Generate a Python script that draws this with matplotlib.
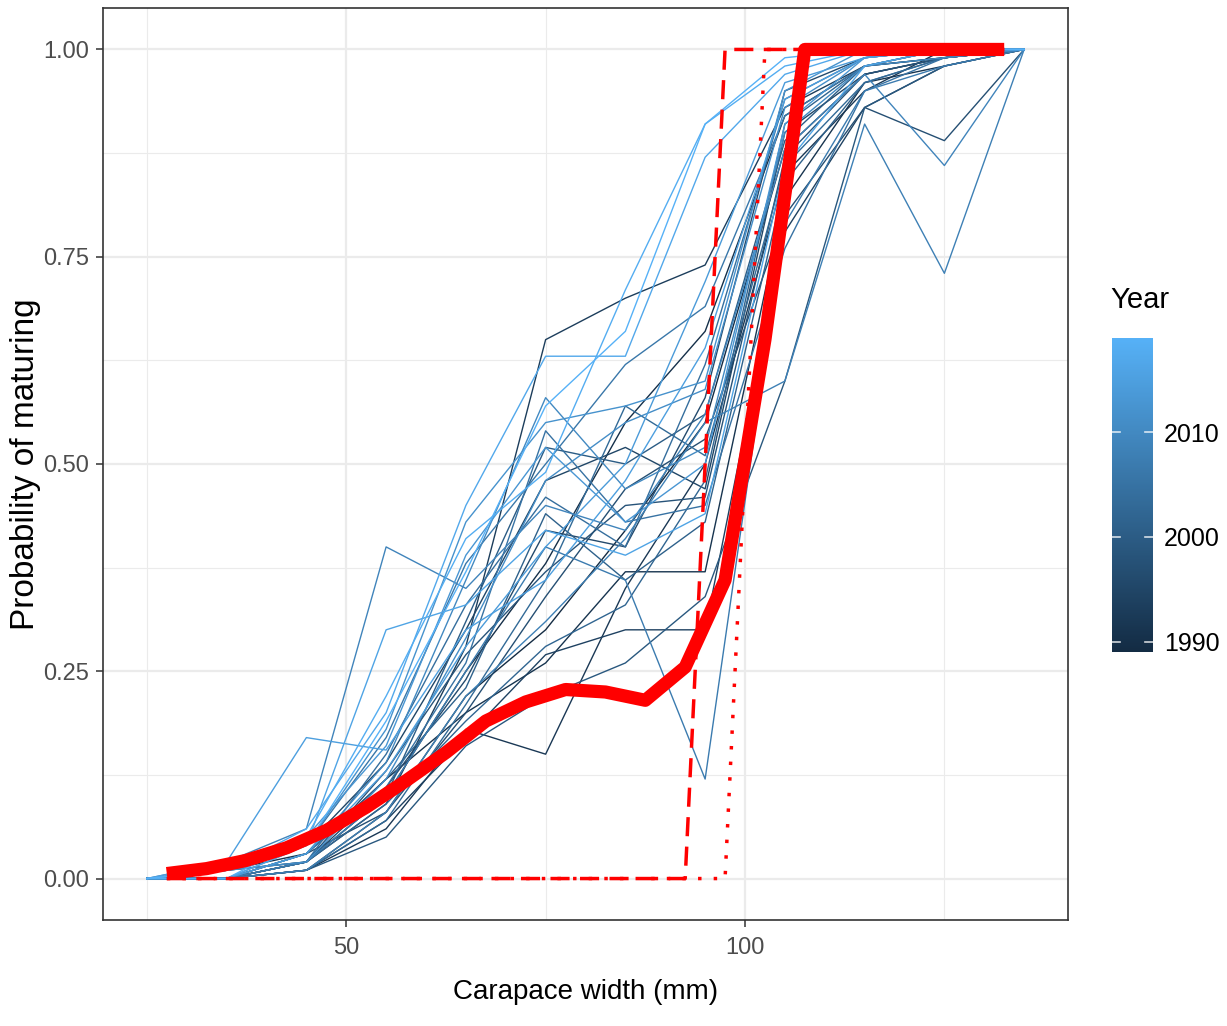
import matplotlib
matplotlib.use("Agg")
import matplotlib.pyplot as plt
from matplotlib import font_manager
from matplotlib.colors import LinearSegmentedColormap, Normalize
import matplotlib.colorbar as mcolorbar

# carapace width bins (mm) used for the yearly curves
widths = [25, 35, 45, 55, 65, 75, 85, 95, 105, 115, 125, 135]

years = list(range(1989, 2020))

# probability of maturing by width, one row per year
p_1989 = [0, 0, 0.01, 0.08, 0.22, 0.30, 0.42, 0.55, 0.88, 0.97, 0.99, 1]
p_1990 = [0, 0, 0.02, 0.10, 0.25, 0.38, 0.55, 0.66, 0.92, 0.98, 0.99, 1]
p_1991 = [0, 0.01, 0.03, 0.12, 0.20, 0.26, 0.37, 0.37, 0.82, 0.96, 0.98, 1]
p_1992 = [0, 0, 0.01, 0.06, 0.18, 0.15, 0.35, 0.50, 0.85, 0.95, 1.0, 1]
p_1993 = [0, 0, 0.02, 0.09, 0.28, 0.65, 0.70, 0.74, 0.93, 0.98, 0.99, 1]
p_1994 = [0, 0, 0.01, 0.07, 0.17, 0.27, 0.30, 0.30, 0.78, 0.93, 0.98, 1]
p_1995 = [0, 0.01, 0.04, 0.14, 0.30, 0.48, 0.52, 0.47, 0.90, 0.97, 0.99, 1]
p_1996 = [0, 0, 0.02, 0.11, 0.24, 0.42, 0.40, 0.58, 0.95, 0.99, 1.0, 1]
p_1997 = [0, 0, 0.03, 0.08, 0.20, 0.34, 0.47, 0.53, 0.80, 0.93, 0.89, 1]
p_1998 = [0, 0.01, 0.02, 0.13, 0.27, 0.37, 0.45, 0.46, 0.87, 0.97, 0.99, 1]
p_1999 = [0, 0, 0.01, 0.05, 0.16, 0.22, 0.26, 0.34, 0.60, 0.93, 0.98, 1]
p_2000 = [0, 0, 0.02, 0.10, 0.31, 0.52, 0.50, 0.56, 0.89, 0.98, 1.0, 1]
p_2001 = [0, 0, 0.03, 0.12, 0.23, 0.44, 0.36, 0.43, 0.84, 0.96, 0.99, 1]
p_2002 = [0, 0.01, 0.02, 0.09, 0.19, 0.28, 0.33, 0.48, 0.91, 0.98, 1.0, 1]
p_2003 = [0, 0, 0.01, 0.07, 0.21, 0.36, 0.57, 0.51, 0.86, 0.96, 0.99, 1]
p_2004 = [0, 0, 0.02, 0.15, 0.33, 0.46, 0.40, 0.62, 0.94, 0.99, 1.0, 1]
p_2005 = [0, 0, 0.03, 0.11, 0.26, 0.54, 0.43, 0.45, 0.76, 0.95, 0.99, 1]
p_2006 = [0, 0.01, 0.04, 0.17, 0.38, 0.50, 0.62, 0.69, 0.92, 0.98, 1.0, 1]
p_2007 = [0, 0, 0.02, 0.10, 0.25, 0.40, 0.36, 0.12, 0.79, 0.95, 0.98, 1]
p_2008 = [0, 0, 0.01, 0.08, 0.22, 0.31, 0.41, 0.55, 0.60, 0.91, 0.73, 1]
p_2009 = [0, 0.02, 0.06, 0.40, 0.35, 0.45, 0.42, 0.56, 0.88, 0.97, 0.86, 1]
p_2010 = [0, 0, 0.03, 0.14, 0.36, 0.58, 0.47, 0.52, 0.90, 0.98, 0.99, 1]
p_2011 = [0, 0.01, 0.02, 0.12, 0.29, 0.48, 0.55, 0.59, 0.93, 0.99, 1.0, 1]
p_2012 = [0, 0, 0.04, 0.18, 0.43, 0.55, 0.57, 0.60, 0.95, 1.0, 1.0, 1]
p_2013 = [0, 0.01, 0.05, 0.16, 0.39, 0.52, 0.43, 0.50, 0.91, 0.99, 1.0, 1]
p_2014 = [0, 0, 0.03, 0.13, 0.28, 0.40, 0.50, 0.72, 0.96, 0.99, 1.0, 1]
p_2015 = [0, 0.02, 0.17, 0.155, 0.30, 0.36, 0.48, 0.64, 0.94, 0.99, 1.0, 1]
p_2016 = [0, 0, 0.04, 0.30, 0.33, 0.42, 0.39, 0.44, 0.86, 0.98, 1.0, 1]
p_2017 = [0, 0.01, 0.06, 0.20, 0.45, 0.63, 0.63, 0.87, 0.97, 1.0, 1.0, 1]
p_2018 = [0, 0, 0.05, 0.22, 0.41, 0.49, 0.71, 0.91, 0.98, 1.0, 1.0, 1]
p_2019 = [0, 0.01, 0.04, 0.19, 0.37, 0.57, 0.66, 0.91, 0.99, 1.0, 1.0, 1]

yearly = [p_1989, p_1990, p_1991, p_1992, p_1993, p_1994, p_1995, p_1996,
          p_1997, p_1998, p_1999, p_2000, p_2001, p_2002, p_2003, p_2004,
          p_2005, p_2006, p_2007, p_2008, p_2009, p_2010, p_2011, p_2012,
          p_2013, p_2014, p_2015, p_2016, p_2017, p_2018, p_2019]

# red summary curves on a finer width grid
fine_widths = [27.5, 32.5, 37.5, 42.5, 47.5, 52.5, 57.5, 62.5, 67.5, 72.5, 77.5,
               82.5, 87.5, 92.5, 97.5, 102.5, 107.5, 112.5, 117.5, 122.5, 127.5, 132.5]
mean_curve = [0.006, 0.012, 0.022, 0.037, 0.058, 0.086, 0.118, 0.152, 0.19, 0.213, 0.228,
              0.225, 0.215, 0.255, 0.36, 0.65, 1.0, 1.0, 1.0, 1.0, 1.0, 1.0]
step_dashed = [0, 0, 0, 0, 0, 0, 0, 0, 0, 0, 0, 0, 0, 0, 1, 1, 1, 1, 1, 1, 1, 1]
step_dotted = [0, 0, 0, 0, 0, 0, 0, 0, 0, 0, 0, 0, 0, 0, 0, 1, 1, 1, 1, 1, 1, 1]

names = {f.name for f in font_manager.fontManager.ttflist}
narrow = "Liberation Sans Narrow" if "Liberation Sans Narrow" in names else "Liberation Sans"
plt.rcParams["font.family"] = [narrow, "DejaVu Sans"]

cmap = LinearSegmentedColormap.from_list("gg", ["#132B43", "#56B1F7"])
norm = Normalize(vmin=min(years), vmax=max(years))

fig = plt.figure(figsize=(12.27, 10.26), dpi=100)
ax = fig.add_axes([103 / 1227, 1 - 920 / 1026, (1068 - 103) / 1227, (920 - 8) / 1026])

for yr, vals in zip(years, yearly):
    ax.plot(widths, vals, color=cmap(norm(yr)), lw=1.0, zorder=3)

ax.plot(fine_widths, step_dashed, color="red", lw=2.5, ls=(0, (5.5, 3)), zorder=4)
ax.plot(fine_widths, step_dotted, color="red", lw=2.5, ls=(0, (1, 3.5)), zorder=4)
ax.plot(fine_widths, mean_curve, color="red", lw=9.5, solid_capstyle="butt",
        solid_joinstyle="round", zorder=5)

ax.set_xlim(19.5, 140.5)
ax.set_ylim(-0.05, 1.05)
ax.set_xticks([50, 100])
ax.set_xticks([25, 75, 125], minor=True)
ax.set_yticks([0, 0.25, 0.5, 0.75, 1.0])
ax.set_yticklabels(["0.00", "0.25", "0.50", "0.75", "1.00"])
ax.set_yticks([0.125, 0.375, 0.625, 0.875], minor=True)
ax.grid(which="major", color="#EBEBEB", lw=1.6, zorder=0)
ax.grid(which="minor", color="#EBEBEB", lw=0.8, zorder=0)
ax.set_axisbelow(True)
for s in ax.spines.values():
    s.set_color("#333333")
    s.set_linewidth(1.2)
ax.tick_params(which="major", length=5, width=1.1, color="#333333",
               labelsize=17, labelcolor="#4D4D4D")
ax.tick_params(axis="x", which="major", pad=7)
ax.tick_params(axis="y", which="major", pad=5)
ax.tick_params(which="minor", length=0)

ax.set_xlabel("Carapace width (mm)", fontsize=20, labelpad=15)
ax.set_ylabel("Probability of maturing", fontsize=24,
              family=["Liberation Sans", "DejaVu Sans"])
ax.yaxis.set_label_coords(-0.064, 0.5)

# colour bar legend
cax = fig.add_axes([1112 / 1227, 1 - 652 / 1026, 41 / 1227, 314 / 1026])
cb = mcolorbar.ColorbarBase(cax, cmap=cmap, norm=norm, orientation="vertical")
cb.outline.set_visible(False)
cb.set_ticks([1990, 2000, 2010])
cax.tick_params(length=0, labelsize=18, labelcolor="black", pad=8)
for t in [1990, 2000, 2010]:
    cax.plot([0, 0.2], [t, t], color="white", lw=1.2, transform=cax.get_yaxis_transform(), alpha=0.8)
    cax.plot([0.8, 1], [t, t], color="white", lw=1.2, transform=cax.get_yaxis_transform(), alpha=0.8)
fig.text(1110 / 1227, 1 - 300 / 1026, "Year", fontsize=21, ha="left", va="center")

fig.savefig("out.png", dpi=100)
